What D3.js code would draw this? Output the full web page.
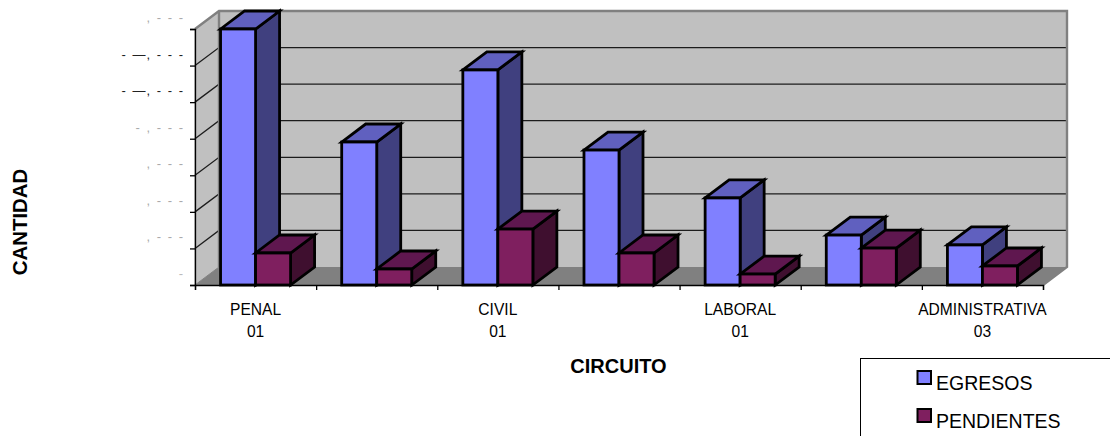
<!DOCTYPE html>
<html><head><meta charset="utf-8">
<script src="https://cdn.jsdelivr.net/npm/d3@7/dist/d3.min.js"></script>
<style>html,body{margin:0;padding:0;background:#fff}svg{display:block}text{font-family:"Liberation Sans",Arial,sans-serif;fill:#000}</style>
</head><body><svg id="c" width="1110" height="436"></svg>
<script>
const categoryKeys = ["c1","c2","c3","c4","c5","c6","c7"];
const categoryLine1 = ["PENAL","","CIVIL","","LABORAL","","ADMINISTRATIVA"];
const categoryLine2 = ["01","","01","","01","","03"];
const seriesNames = ["EGRESOS","PENDIENTES"];
const egresos = [14000,7820,11760,7380,4760,2730,2190];
const pendientes = [1750,875,3060,1750,600,2020,1040];
const tickValues = [0,2000,4000,6000,8000,10000,12000,14000];
const tickLabels = ["-",", - - -",", - - -",", - - -","- , - - -","- —, - - -","- —, - - -",", - - -"];
const tickShades = ["#bbb","#aaa","#aaa","#aaa","#aaa","#222","#222","#aaa"];
const frontColors = ["#8080ff","#7f1f5f"];
const sideColors = ["#40407f","#3f0f2f"];
const topColors = ["#6060bf","#5f174f"];

const svg = d3.select("#c");
const dx = 24, dy = -18;
const x = d3.scaleBand().domain(categoryKeys).range([195,1043]);
const sub = d3.scaleBand().domain(seriesNames).range([0,x.bandwidth()]).paddingInner(0).paddingOuter(0.73);
const y = d3.scaleLinear().domain([0,14000]).range([285,29]);
const line = d3.line();
const poly = pts => line(pts)+"Z";
const [x0,x1] = x.range(), y0 = y(0), yT = y(14000);

// walls
svg.append("path").attr("d",poly([[x0,y0],[x0+dx,y0+dy],[x0+dx,yT+dy],[x0,yT]])).attr("fill","#c0c0c0").attr("stroke","#808080").attr("stroke-width",1);
svg.append("rect").attr("x",x0+dx).attr("y",yT+dy).attr("width",x1-x0).attr("height",y0-yT).attr("fill","#c0c0c0");
// floor
svg.append("path").attr("d",poly([[x0,y0],[x0+dx,y0+dy],[x1+dx,y0+dy],[x1,y0]])).attr("fill","#808080");
// gridlines
const grid = svg.append("g");
tickValues.slice(1,-1).forEach(v=>{
  grid.append("path").attr("d",line([[x0,y(v)],[x0+dx,y(v)+dy],[x1+dx,y(v)+dy]])).attr("fill","none").attr("stroke","#1c1c1c").attr("stroke-width",1.3);
});
// wall borders
svg.append("path").attr("d",line([[x0,yT],[x0+dx,yT+dy],[x1+dx,yT+dy],[x1+dx,y0+dy],[x1,y0]])).attr("fill","none").attr("stroke","#808080").attr("stroke-width",2.4);
svg.append("path").attr("d",line([[x0+dx,yT+dy],[x0+dx,y0+dy]])).attr("fill","none").attr("stroke","#808080").attr("stroke-width",2.4);

// bars
const seriesValues = [egresos,pendientes];
categoryKeys.forEach((k,i)=>{
  seriesNames.forEach((s,j)=>{
    const v = seriesValues[j][i], bx = x(k)+sub(s), w = sub.bandwidth(), t = y(v), b = y(0);
    const g = svg.append("g").attr("stroke","#000").attr("stroke-width",2.8).attr("stroke-linejoin","miter");
    g.append("path").attr("d",poly([[bx+w,t],[bx+w+dx,t+dy],[bx+w+dx,b+dy],[bx+w,b]])).attr("fill",sideColors[j]);
    g.append("path").attr("d",poly([[bx,t],[bx+dx,t+dy],[bx+w+dx,t+dy],[bx+w,t]])).attr("fill",topColors[j]);
    g.append("rect").attr("x",bx).attr("y",t).attr("width",w).attr("height",b-t).attr("fill",frontColors[j]);
  });
});

// axes
const yAxis = d3.axisLeft(y).tickValues(tickValues).tickSize(5).tickFormat("");
const ga = svg.append("g").attr("transform",`translate(${x0},0)`).call(yAxis);
ga.selectAll("line,path").attr("stroke","#000").attr("stroke-width",1.3);
const xTick = d3.scaleLinear().domain([0,7]).range([x0,x1]);
const gb = svg.append("g").attr("transform",`translate(0,${y0})`).call(d3.axisBottom(xTick).ticks(7).tickSize(5).tickFormat(""));
gb.selectAll("line,path").attr("stroke","#000").attr("stroke-width",1.3);

// y tick labels
svg.append("g").selectAll("text").data(tickValues).join("text")
  .attr("x",184).attr("y",v=>y(v)-7).attr("text-anchor","end")
  .attr("font-size",13).attr("word-spacing","1px").attr("letter-spacing","1px")
  .style("fill",(v,i)=>tickShades[i]).text((v,i)=>tickLabels[i]);

// category labels
const cat = svg.append("g").attr("font-size",15.6).attr("text-anchor","middle");
categoryKeys.forEach((k,i)=>{
  const cx = x(k)+x.bandwidth()/2;
  cat.append("text").attr("x",cx).attr("y",315).text(categoryLine1[i]);
  cat.append("text").attr("x",cx).attr("y",337).text(categoryLine2[i]);
});

// titles
svg.append("text").attr("text-anchor","middle").attr("font-weight","bold").attr("font-size",20.4)
  .attr("transform","translate(27,222) rotate(-90)").text("CANTIDAD");
svg.append("text").attr("x",618.5).attr("y",373).attr("text-anchor","middle").attr("font-weight","bold").attr("font-size",20).text("CIRCUITO");

// legend
svg.append("rect").attr("x",860.5).attr("y",358.5).attr("width",260).attr("height",100).attr("fill","#fff").attr("stroke","#000");
const swY = [371,409], txtY = [390,428];
seriesNames.forEach((s,j)=>{
  svg.append("rect").attr("x",917.5).attr("y",swY[j]).attr("width",13.5).attr("height",13).attr("fill",frontColors[j]).attr("stroke","#000").attr("stroke-width",2);
  svg.append("text").attr("x",936).attr("y",txtY[j]).attr("font-size",19.5).text(s);
});
</script></body></html>
